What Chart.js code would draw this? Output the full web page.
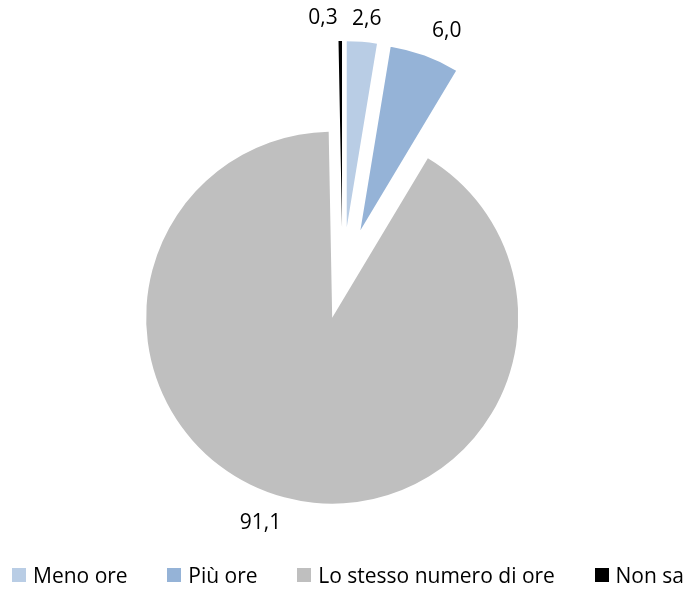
<!DOCTYPE html>
<html lang="it">
<head>
<meta charset="utf-8">
<title>Ore di lavoro</title>
<script src="https://cdn.jsdelivr.net/npm/chart.js@4/dist/chart.umd.min.js"></script>
<style>
  html, body { margin: 0; padding: 0; background: #fff; }
  #wrap { position: relative; width: 688px; height: 590px; }
  #oreChart { position: absolute; left: 0; top: 0; }
  #legend {
    position: absolute; left: 0; top: 563px; width: 688px; box-sizing: border-box;
    padding: 0 4px 0 12px; display: flex; justify-content: space-between; align-items: center;
    font-family: "Open Sans", sans-serif; font-size: 21px; line-height: 24px; color: #000;
  }
  #legend span.item { display: flex; align-items: center; white-space: nowrap; }
  #legend span.box { display: inline-block; width: 14px; height: 14px; margin-right: 7px; }
</style>
</head>
<body>
<div id="wrap">
  <canvas id="oreChart" width="688" height="590"></canvas>
  <div id="legend"></div>
</div>
<script>
// --- Data ---
const categories = ["Meno ore", "Più ore", "Lo stesso numero di ore", "Non sa"];
const percentages = [2.6, 6.0, 91.1, 0.3];
const sliceColors = ["#B9CDE5", "#95B3D7", "#BFBFBF", "#000000"];

// how far each slice is pulled out of the pie (px)
const explode = [52, 52, 40, 52];
// small corrections so the value labels don't collide
const labelNudge = [[2, 6], [10, 3], [-13, -2], [-17, 6]];

const fmt = (v) => v.toFixed(1).replace(".", ",");

// --- Exploded slices ---
const explodePlugin = {
  id: "explode",
  beforeDatasetsDraw(chart) {
    const meta = chart.getDatasetMeta(0);
    const area = chart.chartArea;
    const cx = (area.left + area.right) / 2 + meta.controller.offsetX;
    const cy = (area.top + area.bottom) / 2 + meta.controller.offsetY;
    meta.data.forEach((arc, i) => {
      const mid = (arc.startAngle + arc.endAngle) / 2;
      arc.x = cx + Math.cos(mid) * explode[i];
      arc.y = cy + Math.sin(mid) * explode[i];
    });
  }
};

// --- Value labels outside the slices ---
const valueLabels = {
  id: "valueLabels",
  afterDatasetsDraw(chart) {
    const ctx = chart.ctx;
    const meta = chart.getDatasetMeta(0);
    ctx.save();
    ctx.font = "21px 'Open Sans', sans-serif";
    ctx.fillStyle = "#000";
    ctx.textAlign = "center";
    ctx.textBaseline = "middle";
    meta.data.forEach((arc, i) => {
      const mid = (arc.startAngle + arc.endAngle) / 2;
      const dx = Math.cos(mid), dy = Math.sin(mid);
      const text = fmt(percentages[i]);
      const w = ctx.measureText(text).width;
      const r = arc.outerRadius + 21;
      const x = arc.x + dx * r + dx * w / 2 + labelNudge[i][0];
      const y = arc.y + dy * r + dy * 8 + labelNudge[i][1];
      ctx.fillText(text, x, y);
    });
    ctx.restore();
  }
};

// --- Chart ---
const ctx = document.getElementById("oreChart").getContext("2d");
const oreChart = new Chart(ctx, {
  type: "pie",
  data: {
    labels: categories,
    datasets: [{
      data: percentages,
      backgroundColor: sliceColors,
      borderWidth: 0,
      clip: false
    }]
  },
  options: {
    responsive: false,
    animation: false,
    events: [],
    radius: 186,
    layout: { padding: { left: 0, right: 3, top: 0, bottom: 32 } },
    plugins: {
      legend: { display: false },
      tooltip: { enabled: false }
    }
  },
  plugins: [explodePlugin, valueLabels]
});

// --- Legend ---
const legend = document.getElementById("legend");
categories.forEach((name, i) => {
  const item = document.createElement("span");
  item.className = "item";
  item.innerHTML = `<span class="box" style="background:${sliceColors[i]}"></span>${name}`;
  legend.appendChild(item);
});
</script>
</body>
</html>
